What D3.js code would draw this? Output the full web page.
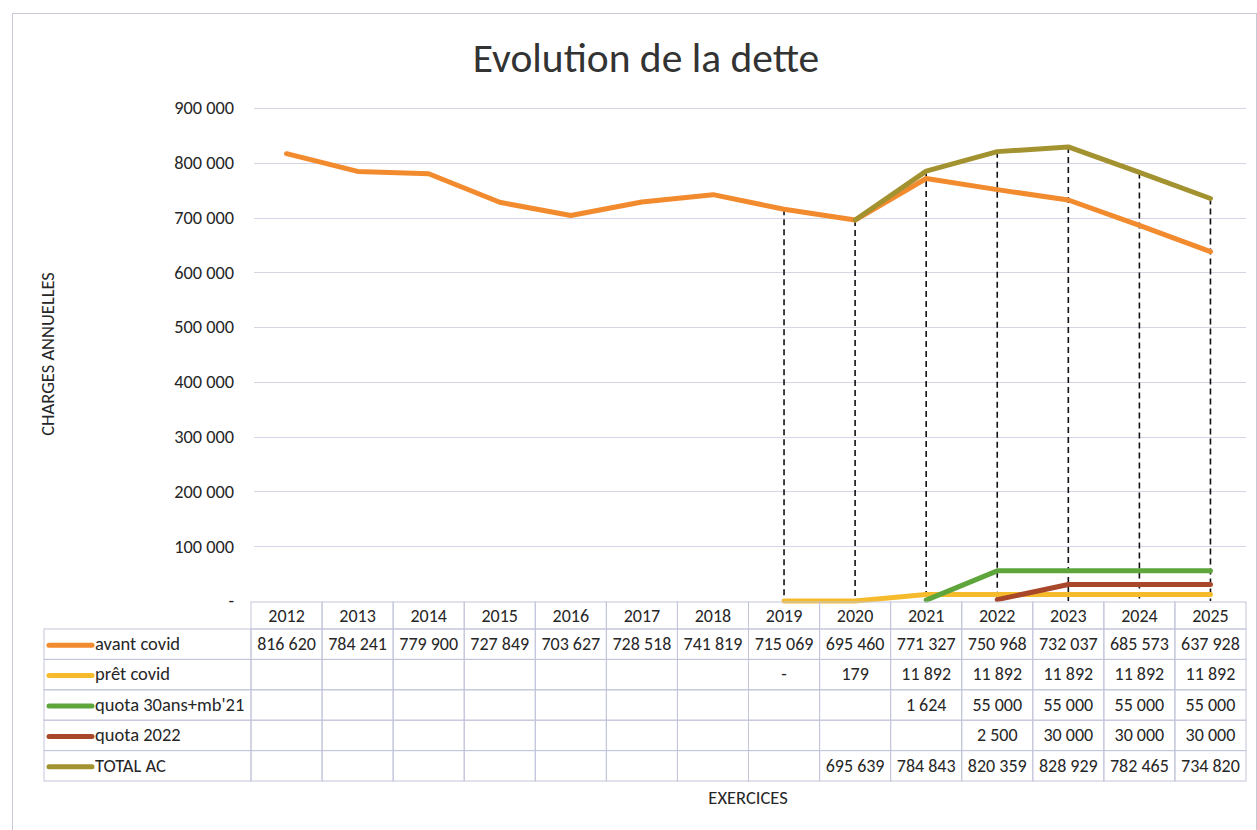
<!DOCTYPE html>
<html>
<head>
<meta charset="utf-8">
<script src="https://cdn.jsdelivr.net/npm/d3@7"></script>
<style>
  body { margin: 0; background: #fff; }
  svg { font-family: Carlito, Calibri, Lato, "Open Sans", sans-serif; }
</style>
</head>
<body>
<svg id="chart" width="1257" height="830"></svg>
<script>
// data
const years = ["2012","2013","2014","2015","2016","2017","2018","2019","2020","2021","2022","2023","2024","2025"];
const avantCovid = [816620, 784241, 779900, 727849, 703627, 728518, 741819, 715069, 695460, 771327, 750968, 732037, 685573, 637928];
const pretCovid  = [null, null, null, null, null, null, null, 0, 179, 11892, 11892, 11892, 11892, 11892];
const quota30    = [null, null, null, null, null, null, null, null, null, 1624, 55000, 55000, 55000, 55000];
const quota2022  = [null, null, null, null, null, null, null, null, null, null, 2500, 30000, 30000, 30000];
const totalAC    = [null, null, null, null, null, null, null, null, 695639, 784843, 820359, 828929, 782465, 734820];
const yTicks = [0, 100000, 200000, 300000, 400000, 500000, 600000, 700000, 800000, 900000];

const series = [
  { name: "avant covid",      values: avantCovid, color: "#f28a2e" },
  { name: "prêt covid",       values: pretCovid,  color: "#f6bb2c" },
  { name: "quota 30ans+mb'21", values: quota30,   color: "#5ea63c" },
  { name: "quota 2022",       values: quota2022,  color: "#a9472b" },
  { name: "TOTAL AC",         values: totalAC,    color: "#a39230" }
];

const svg = d3.select("#chart");
const W = 1257, H = 830;
const textCol = "#262626";

// french style number format, zero shown as a dash like excel
const fr = d3.formatLocale({ decimal: ",", thousands: "\u202f", grouping: [3], currency: ["", " €"] });
const fmtNum = v => v === 0 ? "-" : fr.format(",")(v);

// outer frame
svg.append("rect")
  .attr("x", 12.5).attr("y", 13.5).attr("width", W - 13).attr("height", H - 13)
  .attr("fill", "#fff").attr("stroke", "#c9c9d6");

const x = d3.scaleBand().domain(years).range([251, 1246]).paddingInner(0).paddingOuter(0);
const y = d3.scaleLinear().domain([0, 900000]).range([601, 108]);
const cx = d => x(d) + x.bandwidth() / 2;

// title
svg.append("text")
  .attr("x", 646).attr("y", 72)
  .attr("text-anchor", "middle")
  .attr("font-size", 41.5).attr("fill", "#333")
  .text("Evolution de la dette");

// gridlines
svg.append("g")
  .selectAll("line")
  .data(yTicks.filter(t => t > 0))
  .join("line")
  .attr("x1", 254).attr("x2", 1246)
  .attr("y1", d => Math.round(y(d)) + 0.5).attr("y2", d => Math.round(y(d)) + 0.5)
  .attr("stroke", "#d4d6e6").attr("stroke-width", 1.2);

// y axis labels
const yAxis = svg.append("g")
  .attr("transform", "translate(234,0)")
  .call(d3.axisLeft(y).tickValues(yTicks).tickFormat(fmtNum).tickSize(0).tickPadding(0));
yAxis.select(".domain").remove();
yAxis.selectAll("text")
  .attr("font-size", 18.3).attr("fill", textCol)
  .attr("font-family", "Carlito, Calibri, Lato, sans-serif");

svg.append("text")
  .attr("transform", "translate(54,354) rotate(-90)")
  .attr("text-anchor", "middle")
  .attr("font-size", 18.5).attr("fill", textCol)
  .text("CHARGES ANNUELLES");

// drop lines where the covid loan columns start
const dropYears = years.filter((yr, i) => pretCovid[i] !== null);
svg.append("g")
  .selectAll("line")
  .data(dropYears)
  .join("line")
  .attr("x1", d => cx(d)).attr("x2", d => cx(d))
  .attr("y1", d => {
    const i = years.indexOf(d);
    return y(d3.max(series, s => s.values[i] ?? 0));
  })
  .attr("y2", y(0))
  .attr("stroke", "#111").attr("stroke-width", 1.6)
  .attr("stroke-dasharray", "6,4");

// series lines
const line = d3.line()
  .defined(d => d.v !== null)
  .x(d => cx(d.year))
  .y(d => y(d.v));

svg.append("g")
  .selectAll("path")
  .data(series)
  .join("path")
  .attr("d", s => line(years.map((yr, i) => ({ year: yr, v: s.values[i] }))))
  .attr("fill", "none")
  .attr("stroke", s => s.color)
  .attr("stroke-width", 5)
  .attr("stroke-linejoin", "round")
  .attr("stroke-linecap", "round");

// data table
const tableTop = 602, headH = 27, rowH = 30.4, legendX = 44;
const grid = "#c3c5da";
const tbl = svg.append("g").attr("font-size", 18).attr("fill", textCol);

// header cells
tbl.selectAll("rect.head")
  .data(years)
  .join("rect")
  .attr("class", "head")
  .attr("x", d => x(d)).attr("y", tableTop)
  .attr("width", x.bandwidth()).attr("height", headH)
  .attr("fill", "none").attr("stroke", grid);
tbl.selectAll("text.head")
  .data(years)
  .join("text")
  .attr("class", "head")
  .attr("x", d => cx(d)).attr("y", tableTop + 20)
  .attr("text-anchor", "middle")
  .text(d => d);

series.forEach((s, r) => {
  const top = tableTop + headH + r * rowH;
  const row = tbl.append("g");
  row.append("rect")
    .attr("x", legendX).attr("y", top)
    .attr("width", x(years[0]) - legendX).attr("height", rowH)
    .attr("fill", "none").attr("stroke", grid);
  row.append("line")
    .attr("x1", legendX + 5).attr("x2", legendX + 48)
    .attr("y1", top + rowH / 2 + 1).attr("y2", top + rowH / 2 + 1)
    .attr("stroke", s.color).attr("stroke-width", 5)
    .attr("stroke-linecap", "round");
  row.append("text")
    .attr("x", legendX + 51).attr("y", top + 21)
    .attr("font-size", 18.5)
    .text(s.name);
  row.selectAll("rect.cell")
    .data(years)
    .join("rect")
    .attr("class", "cell")
    .attr("x", d => x(d)).attr("y", top)
    .attr("width", x.bandwidth()).attr("height", rowH)
    .attr("fill", "none").attr("stroke", grid);
  row.selectAll("text.cell")
    .data(years.map((yr, i) => ({ yr, v: s.values[i] })).filter(d => d.v !== null))
    .join("text")
    .attr("class", "cell")
    .attr("x", d => cx(d.yr)).attr("y", top + 21)
    .attr("text-anchor", "middle")
    .text(d => fmtNum(d.v));
});

// x axis title
svg.append("text")
  .attr("x", 748).attr("y", 804)
  .attr("text-anchor", "middle")
  .attr("font-size", 18.5).attr("fill", textCol)
  .text("EXERCICES");
</script>
</body>
</html>
